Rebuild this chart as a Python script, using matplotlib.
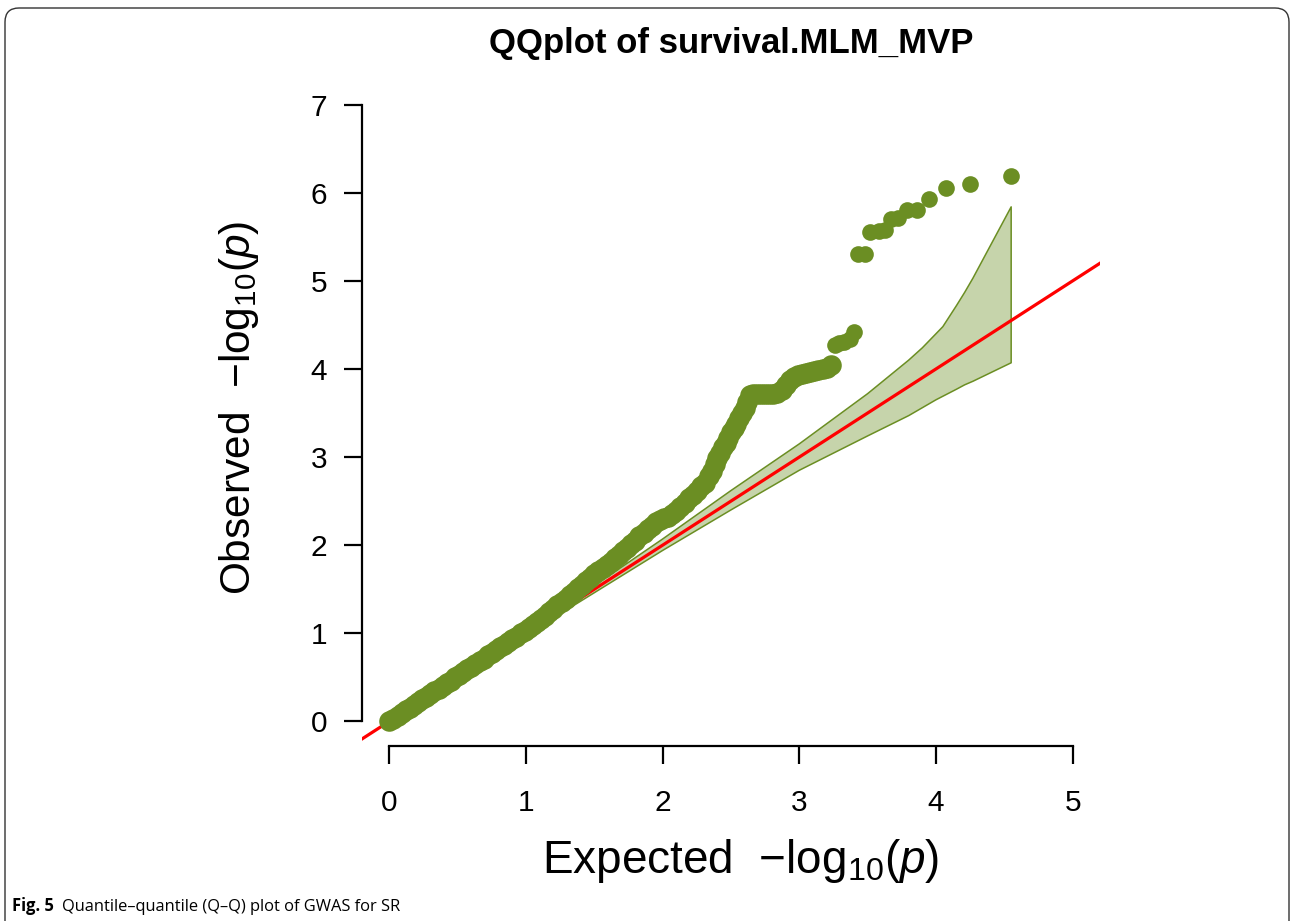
import matplotlib
matplotlib.use("Agg")
import matplotlib.pyplot as plt
from matplotlib.patches import FancyBboxPatch
from matplotlib.transforms import IdentityTransform

# ------------------- DATEN -------------------
# erwartete / beobachtete -log10(p), aus dem Bild abgelesen
expected = [
    0.00, 0.03, 0.06, 0.09, 0.12, 0.15, 0.18, 0.21, 0.24, 0.27,
    0.30, 0.33, 0.36, 0.39, 0.42, 0.45, 0.48, 0.51, 0.54, 0.57,
    0.60, 0.63, 0.66, 0.69, 0.72, 0.75, 0.78, 0.81, 0.84, 0.87,
    0.90, 0.93, 0.96, 0.99, 1.02, 1.05, 1.08, 1.11, 1.14, 1.17,
    1.20, 1.23, 1.26, 1.29, 1.32, 1.35, 1.38, 1.41, 1.44, 1.47,
    1.50, 1.53, 1.56, 1.59, 1.62, 1.65, 1.68, 1.71, 1.74, 1.77,
    1.80, 1.83, 1.86, 1.89, 1.92, 1.95, 1.98, 2.01, 2.04, 2.07,
    2.10, 2.13, 2.16, 2.19, 2.22, 2.25, 2.28, 2.31, 2.34, 2.36,
    2.38, 2.40, 2.42, 2.44, 2.46, 2.48, 2.50, 2.52, 2.54, 2.56,
    2.58, 2.60, 2.62, 2.64, 2.66, 2.69, 2.72, 2.75, 2.78, 2.81,
    2.84, 2.87, 2.90, 2.93, 2.96, 2.99, 3.02, 3.05, 3.08, 3.11,
    3.14, 3.17, 3.20, 3.23, 3.26, 3.29, 3.33, 3.37, 3.40,
    3.43, 3.48, 3.52, 3.58, 3.63, 3.67, 3.72, 3.79, 3.86, 3.95,
    4.07, 4.25, 4.55,
]
observed = [
    0.00, 0.03, 0.06, 0.09, 0.13, 0.15, 0.19, 0.22, 0.25, 0.28,
    0.31, 0.34, 0.37, 0.40, 0.43, 0.46, 0.50, 0.53, 0.56, 0.59,
    0.62, 0.65, 0.68, 0.71, 0.75, 0.78, 0.81, 0.84, 0.87, 0.90,
    0.93, 0.96, 1.00, 1.03, 1.06, 1.09, 1.13, 1.16, 1.20, 1.24,
    1.28, 1.32, 1.35, 1.39, 1.43, 1.47, 1.51, 1.55, 1.59, 1.63,
    1.67, 1.71, 1.74, 1.78, 1.81, 1.85, 1.89, 1.93, 1.97, 2.01,
    2.05, 2.10, 2.14, 2.18, 2.22, 2.26, 2.29, 2.31, 2.32, 2.35,
    2.39, 2.43, 2.48, 2.53, 2.57, 2.62, 2.67, 2.71, 2.78, 2.84,
    2.92, 2.99, 3.05, 3.11, 3.16, 3.22, 3.28, 3.33, 3.38, 3.44,
    3.50, 3.56, 3.63, 3.70, 3.72, 3.72, 3.71, 3.72, 3.71, 3.72,
    3.73, 3.76, 3.82, 3.87, 3.91, 3.93, 3.94, 3.95, 3.97, 3.98,
    3.99, 4.00, 4.01, 4.04, 4.27, 4.30, 4.31, 4.34, 4.42,
    5.30, 5.30, 5.55, 5.57, 5.58, 5.70, 5.71, 5.80, 5.80, 5.93,
    6.05, 6.10, 6.19,
]

# Konfidenzband
ci_expected = [0.0, 0.5, 1.0, 1.5, 2.0, 2.5, 3.0, 3.5, 3.8, 3.9, 4.0, 4.05, 4.15, 4.21, 4.27, 4.55]
ci_upper = [0.0, 0.51, 1.02, 1.54, 2.07, 2.62, 3.15, 3.72, 4.10, 4.24, 4.40, 4.48, 4.72, 4.87, 5.03, 5.84]
ci_lower = [0.0, 0.49, 0.98, 1.46, 1.94, 2.40, 2.85, 3.24, 3.47, 3.56, 3.65, 3.69, 3.77, 3.82, 3.86, 4.07]

x_ticks = [0, 1, 2, 3, 4, 5]
y_ticks = [0, 1, 2, 3, 4, 5, 6, 7]

titel = "QQplot of survival.MLM_MVP"
caption_bold = "Fig. 5"
caption_text = "Quantile\u2013quantile (Q\u2013Q) plot of GWAS for SR"

# ------------------- STIL -------------------
plt.rcParams['font.family'] = 'Liberation Sans'
plt.rcParams['mathtext.fontset'] = 'custom'
plt.rcParams['mathtext.rm'] = 'Liberation Sans'
plt.rcParams['mathtext.it'] = 'Liberation Sans:italic'
plt.rcParams['mathtext.bf'] = 'Liberation Sans:bold'

gruen = '#6b8e23'
W, H = 1290, 921

fig = plt.figure(figsize=(W / 100, H / 100), dpi=100)
ax = fig.add_axes([362 / W, (H - 746) / H, (1100 - 362) / W, (746 - 80) / H])

# ------------------- PLOTTEN -------------------
poly_x = ci_expected + ci_expected[::-1]
poly_y = ci_upper + ci_lower[::-1]
ax.fill(poly_x, poly_y, facecolor=gruen, alpha=0.38, edgecolor='none', zorder=1)
ax.plot(poly_x + [poly_x[0]], poly_y + [poly_y[0]], color=gruen, lw=1.1, zorder=1.5)

ax.axline((0, 0), slope=1, color='red', lw=2.3, zorder=2)

# dichter Bereich (viele ueberlappende Punkte) etwas breiter zeichnen
n_dicht = sum(1 for e in expected if e < 3.25)
ax.plot(expected[:n_dicht], observed[:n_dicht], 'o', color=gruen,
        markersize=14.8, mew=0, zorder=3)
ax.plot(expected[n_dicht:], observed[n_dicht:], 'o', color=gruen,
        markersize=12, mew=0, zorder=3)

ax.set_xlim(-0.2, 5.2)
ax.set_ylim(-0.28, 7.28)
ax.set_xticks(x_ticks)
ax.set_yticks(y_ticks)

for s in ['top', 'right']:
    ax.spines[s].set_visible(False)
ax.spines['left'].set_bounds(0, 7)
ax.spines['bottom'].set_bounds(0, 5)
for s in ['left', 'bottom']:
    ax.spines[s].set_linewidth(1.6)

ax.tick_params(direction='out', length=13, width=1.6, labelsize=21.5)
ax.tick_params(axis='x', pad=18)
ax.tick_params(axis='y', pad=12)

fig.text(731 / W, 1 - 43 / H, titel, ha='center', va='center',
         fontsize=25, fontweight='bold')

fig.text(741 / W, (H - 873) / H, r'Expected  $-\mathrm{log}_{10}(p)$',
         ha='center', va='baseline', fontsize=33)
fig.text(250 / W, (H - 408) / H, r'Observed  $-\mathrm{log}_{10}(p)$',
         ha='center', va='baseline', rotation=90, rotation_mode='anchor',
         fontsize=30.5)

# Rahmen und Bildunterschrift
rahmen = FancyBboxPatch((5, -30), 1284, H - 8 + 30,
                        boxstyle="round,pad=0,rounding_size=14",
                        transform=IdentityTransform(), facecolor='none',
                        edgecolor='#333333', lw=1.0)
fig.patches.append(rahmen)

t1 = fig.text(12 / W, (H - 911) / H, caption_bold, fontsize=11.9,
              fontweight='bold', family='Open Sans', va='baseline')
ax.annotate(caption_text, xy=(1, 0), xycoords=t1, xytext=(6, 0),
            textcoords='offset points', fontsize=11.9, family='Open Sans',
            va='bottom', annotation_clip=False)

plt.savefig("out.png", dpi=100)
